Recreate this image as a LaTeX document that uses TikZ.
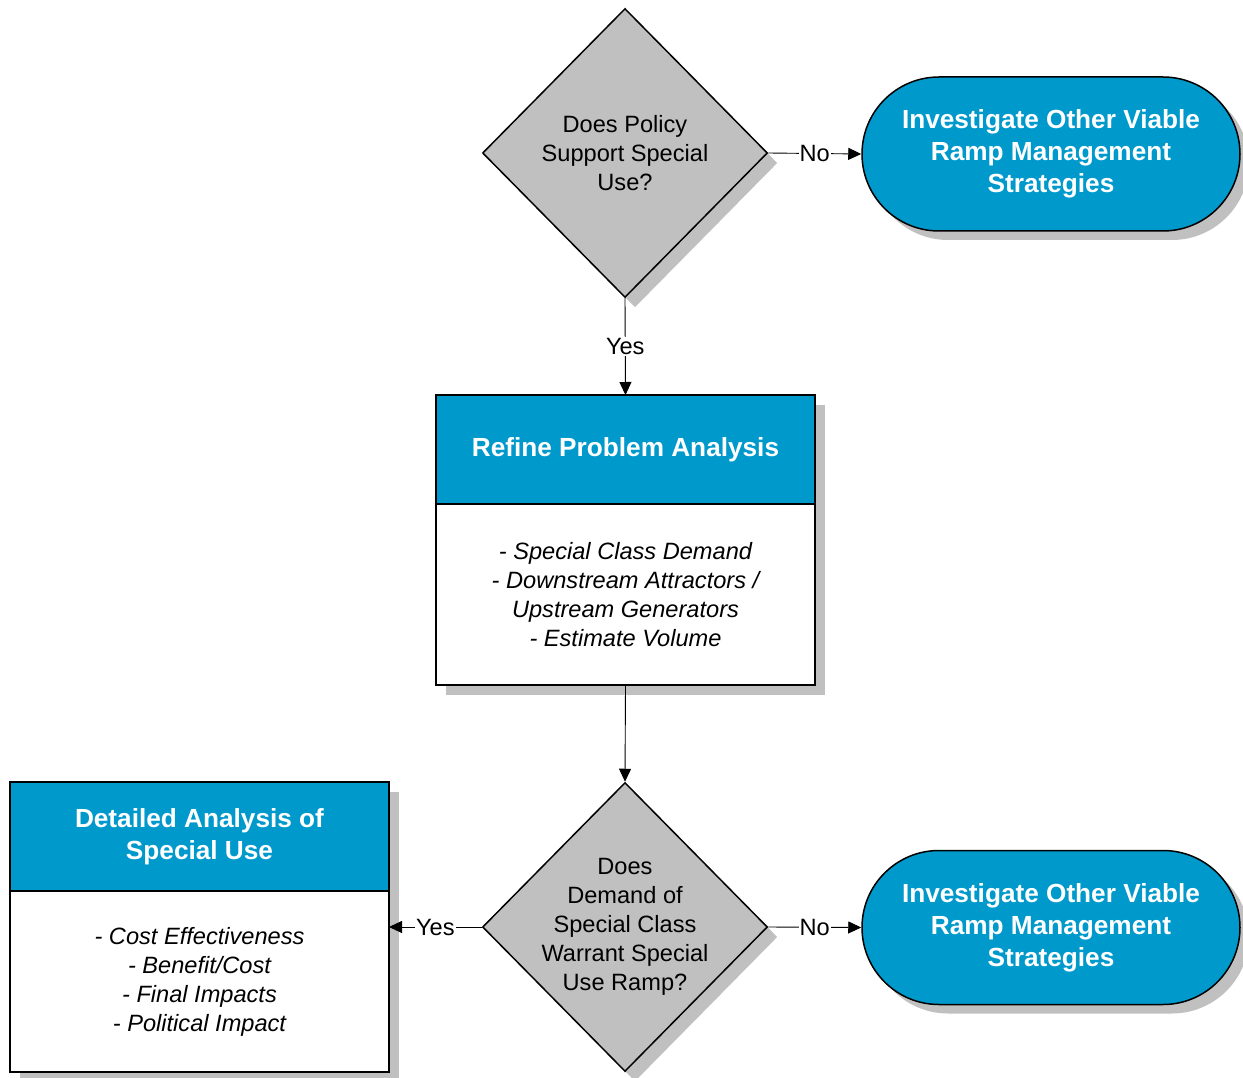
\documentclass[tikz,border=0pt]{standalone}
\usepackage{fontspec}
\setmainfont{Liberation Sans}
\usetikzlibrary{shapes.geometric,shapes.misc,shadows,arrows.meta,backgrounds}
\definecolor{vblue}{RGB}{0,153,204}
\definecolor{dgray}{RGB}{192,192,192}
\definecolor{shgray}{RGB}{192,192,192}

\begin{document}
\begin{tikzpicture}[x=1pt,y=-1pt,
  shade10/.style={drop shadow={shadow xshift=10pt, shadow yshift=-10pt, opacity=1, fill=shgray}},
  decision/.style={diamond, aspect=1, draw=black, line width=1.5pt, fill=dgray,
    inner sep=0pt, minimum width=285pt, minimum height=289pt, shade10},
  qtext/.style={align=center, font=\fontsize{23.6pt}{29pt}\selectfont},
  terminal/.style={rounded rectangle, draw=black, line width=1.5pt, fill=vblue,
    inner sep=0pt, minimum width=378pt, minimum height=154pt, text=white,
    align=center, font=\fontsize{26.2pt}{32pt}\selectfont\bfseries,
    drop shadow={shadow xshift=9pt, shadow yshift=-9pt, opacity=1, fill=shgray}},
  header/.style={rectangle, draw=black, line width=1.5pt, fill=vblue, inner sep=0pt,
    outer sep=0pt, minimum width=379pt, minimum height=109pt, text=white, align=center,
    font=\fontsize{26.2pt}{32pt}\selectfont\bfseries},
  body/.style={rectangle, draw=black, line width=1.5pt, fill=white, inner sep=0pt,
    outer sep=0pt, minimum width=379pt, minimum height=181pt, align=center,
    font=\fontsize{23.6pt}{29pt}\selectfont\itshape},
  conn/.style={draw=black, line width=0.9pt, -{Triangle[length=13pt,width=12pt]}},
  lbl/.style={fill=white, inner sep=1pt, font=\fontsize{23.6pt}{27pt}\selectfont}
]
\useasboundingbox (0,0) rectangle (1243,1078);

% decisions
\node[decision] (d1) at (625,153) {};
\node[qtext] (d1t) at (d1.center) {Does Policy\\Support Special\\Use?};
\node[decision] (d2) at (625,927) {};
\node[qtext] (d2t) at (d2.center) {Does\\Demand of\\Special Class\\Warrant Special\\Use Ramp?};

% terminals
\node[terminal] (t1) at (1051,154) {Investigate Other Viable\\Ramp Management\\Strategies};
\node[terminal] (t2) at (1051,927.5) {Investigate Other Viable\\Ramp Management\\Strategies};

% process boxes: header + body
\node[header] (h1) at (625.5,449.5) {Refine Problem Analysis};
\node[body, anchor=north] (b1) at (h1.south) {- Special Class Demand\\- Downstream Attractors /\\Upstream Generators\\- Estimate Volume};
\node[header] (h2) at (199.5,836.5) {Detailed Analysis of\\Special Use};
\node[body, anchor=north] (b2) at (h2.south) {- Cost Effectiveness\\- Benefit/Cost\\- Final Impacts\\- Political Impact};

\begin{scope}[on background layer]
  \fill[shgray] ([shift={(10,10)}]h1.north west) rectangle ([shift={(10,10)}]b1.south east);
  \fill[shgray] ([shift={(10,10)}]h2.north west) rectangle ([shift={(10,10)}]b2.south east);
\end{scope}

% connectors
\draw[conn] (d1.east) -- node[lbl] (n1) {No} (t1.west);
\draw[conn] (d1.south) -- node[lbl] (y1) {Yes} (h1.north);
\draw[conn] (b1.south) -- (d2.north);
\draw[conn] (d2.west) -- node[lbl] (y2) {Yes} (d2.west -| b2.east);
\draw[conn] (d2.east) -- node[lbl] (n2) {No} (t2.west);
\end{tikzpicture}
\end{document}
